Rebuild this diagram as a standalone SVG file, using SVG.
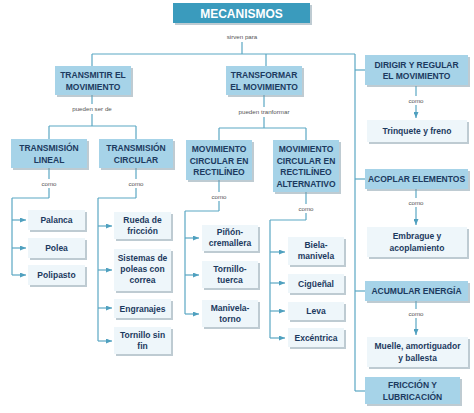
<svg xmlns="http://www.w3.org/2000/svg" width="474" height="413" viewBox="0 0 474 413">
<defs>
<marker id="ah" markerWidth="6" markerHeight="5" refX="6" refY="2.5" orient="auto" markerUnits="userSpaceOnUse">
<path d="M0,0 L6,2.5 L0,5 z" fill="#4fa0bf"/>
</marker>
<style>
.ln{stroke:#5aa7c3;stroke-width:1.2;fill:none}
.ar{stroke:#5aa7c3;stroke-width:1.2;fill:none;marker-end:url(#ah)}
.hd{fill:#a6d3e8}
.lf{fill:#eef6fa}
.sh{fill:#7d98a6;opacity:.5}
.ht{font-family:"Liberation Sans",Arial,sans-serif;font-weight:bold;font-size:8.5px;fill:#1c3a5f;text-anchor:middle}
.lt{font-family:"Liberation Sans",Arial,sans-serif;font-weight:bold;font-size:8.5px;fill:#1c3a5f;text-anchor:middle}
.sm{font-family:"Liberation Sans",Arial,sans-serif;font-size:6.2px;fill:#555;text-anchor:middle}
.tt{font-family:"Liberation Sans",Arial,sans-serif;font-weight:bold;font-size:12px;fill:#fff;text-anchor:middle}
</style>
</defs>
<rect width="474" height="413" fill="#fff"/>

<g id="connectors">
<line class="ln" x1="242" y1="42" x2="242" y2="54"/>
<line class="ln" x1="92" y1="54" x2="355" y2="54"/>
<line class="ln" x1="92" y1="54" x2="92" y2="66"/>
<line class="ln" x1="266" y1="54" x2="266" y2="66"/>
<line class="ln" x1="355" y1="54" x2="355" y2="391"/>
<line class="ln" x1="355" y1="70" x2="365" y2="70"/>
<line class="ln" x1="355" y1="179" x2="365" y2="179"/>
<line class="ln" x1="355" y1="291" x2="365" y2="291"/>
<line class="ln" x1="355" y1="391" x2="365" y2="391"/>
<line class="ln" x1="92" y1="95" x2="92" y2="104"/>
<line class="ln" x1="92" y1="114" x2="92" y2="126"/>
<line class="ln" x1="49" y1="126" x2="136" y2="126"/>
<line class="ln" x1="49" y1="126" x2="49" y2="139"/>
<line class="ln" x1="136" y1="126" x2="136" y2="139"/>
<line class="ln" x1="49" y1="168" x2="49" y2="179"/>
<line class="ln" x1="49" y1="188" x2="49" y2="198"/>
<line class="ln" x1="12" y1="198" x2="49" y2="198"/>
<line class="ln" x1="12" y1="198" x2="12" y2="275"/>
<line class="ar" x1="12" y1="220" x2="26" y2="220"/>
<line class="ar" x1="12" y1="248" x2="26" y2="248"/>
<line class="ar" x1="12" y1="275" x2="26" y2="275"/>
<line class="ln" x1="136" y1="168" x2="136" y2="179"/>
<line class="ln" x1="136" y1="188" x2="136" y2="198"/>
<line class="ln" x1="98" y1="198" x2="136" y2="198"/>
<line class="ln" x1="98" y1="198" x2="98" y2="341"/>
<line class="ar" x1="98" y1="226" x2="112" y2="226"/>
<line class="ar" x1="98" y1="270" x2="112" y2="270"/>
<line class="ar" x1="98" y1="308" x2="112" y2="308"/>
<line class="ar" x1="98" y1="341" x2="112" y2="341"/>
<line class="ln" x1="264" y1="95" x2="264" y2="107"/>
<line class="ln" x1="264" y1="117" x2="264" y2="128"/>
<line class="ln" x1="219" y1="128" x2="306" y2="128"/>
<line class="ln" x1="219" y1="128" x2="219" y2="140"/>
<line class="ln" x1="306" y1="128" x2="306" y2="140"/>
<line class="ln" x1="219" y1="180" x2="219" y2="192"/>
<line class="ln" x1="219" y1="201" x2="219" y2="211"/>
<line class="ln" x1="185" y1="211" x2="219" y2="211"/>
<line class="ln" x1="185" y1="211" x2="185" y2="314"/>
<line class="ar" x1="185" y1="238" x2="199" y2="238"/>
<line class="ar" x1="185" y1="275" x2="199" y2="275"/>
<line class="ar" x1="185" y1="314" x2="199" y2="314"/>
<line class="ln" x1="306" y1="192" x2="306" y2="204"/>
<line class="ln" x1="306" y1="213" x2="306" y2="220"/>
<line class="ln" x1="270" y1="220" x2="306" y2="220"/>
<line class="ln" x1="270" y1="220" x2="270" y2="338"/>
<line class="ar" x1="270" y1="252" x2="285" y2="252"/>
<line class="ar" x1="270" y1="283" x2="285" y2="283"/>
<line class="ar" x1="270" y1="311" x2="285" y2="311"/>
<line class="ar" x1="270" y1="338" x2="285" y2="338"/>
<line class="ln" x1="416" y1="86" x2="416" y2="96"/>
<line class="ar" x1="416" y1="105" x2="416" y2="118"/>
<line class="ln" x1="416" y1="189" x2="416" y2="198"/>
<line class="ar" x1="416" y1="207" x2="416" y2="225"/>
<line class="ln" x1="416" y1="301" x2="416" y2="309"/>
<line class="ar" x1="416" y1="318" x2="416" y2="335"/>
</g>

<g id="labels">
<text class="sm" x="242" y="39">sirven para</text>
<text class="sm" x="92" y="111">pueden ser de</text>
<text class="sm" x="264" y="114">pueden tranformar</text>
<text class="sm" x="49" y="186">como</text>
<text class="sm" x="136" y="186">como</text>
<text class="sm" x="219" y="199">como</text>
<text class="sm" x="306" y="211">como</text>
<text class="sm" x="416" y="103">como</text>
<text class="sm" x="416" y="205">como</text>
<text class="sm" x="416" y="316">como</text>
</g>

<g id="mecanismos">
<rect class="sh" x="175" y="5" width="137" height="20"/>
<rect x="173" y="3" width="137" height="20" fill="#3a9bbd"/>
<text class="tt" x="241.5" y="17.5">MECANISMOS</text>
</g>

<g id="transmitir">
<rect class="sh" x="57" y="68" width="76" height="29"/>
<rect class="hd" x="55" y="66" width="76" height="29"/>
<text class="ht" x="93" y="78">TRANSMITIR EL</text>
<text class="ht" x="93" y="89.5">MOVIMIENTO</text>
</g>
<g id="transformar">
<rect class="sh" x="228" y="68" width="76" height="29"/>
<rect class="hd" x="226" y="66" width="76" height="29"/>
<text class="ht" x="264" y="78">TRANSFORMAR</text>
<text class="ht" x="264" y="89.5">EL MOVIMIENTO</text>
</g>
<g id="dirigir">
<rect class="sh" x="367" y="57" width="103" height="30"/>
<rect class="hd" x="365" y="55" width="103" height="30"/>
<text class="ht" x="416.5" y="67.5">DIRIGIR Y REGULAR</text>
<text class="ht" x="416.5" y="79">EL MOVIMIENTO</text>
</g>

<g id="lineal">
<rect class="sh" x="13" y="141" width="76" height="29"/>
<rect class="hd" x="11" y="139" width="76" height="29"/>
<text class="ht" x="49" y="151">TRANSMISIÓN</text>
<text class="ht" x="49" y="162.5">LINEAL</text>
</g>
<g id="circular">
<rect class="sh" x="101" y="141" width="74" height="29"/>
<rect class="hd" x="99" y="139" width="74" height="29"/>
<text class="ht" x="136" y="151">TRANSMISIÓN</text>
<text class="ht" x="136" y="162.5">CIRCULAR</text>
</g>
<g id="rectilineo">
<rect class="sh" x="188" y="142" width="66" height="40"/>
<rect class="hd" x="186" y="140" width="66" height="40"/>
<text class="ht" x="219" y="152">MOVIMIENTO</text>
<text class="ht" x="219" y="163.5">CIRCULAR EN</text>
<text class="ht" x="219" y="175">RECTILÍNEO</text>
</g>
<g id="alternativo">
<rect class="sh" x="275" y="142" width="66" height="52"/>
<rect class="hd" x="273" y="140" width="66" height="52"/>
<text class="ht" x="306" y="152">MOVIMIENTO</text>
<text class="ht" x="306" y="163.5">CIRCULAR EN</text>
<text class="ht" x="306" y="175">RECTILÍNEO</text>
<text class="ht" x="306" y="186.5">ALTERNATIVO</text>
</g>

<g id="palanca">
<rect class="sh" x="30" y="212" width="57" height="20"/>
<rect class="lf" x="28" y="210" width="57" height="20"/>
<text class="lt" x="56.5" y="223">Palanca</text>
</g>
<g id="polea">
<rect class="sh" x="30" y="240" width="57" height="20"/>
<rect class="lf" x="28" y="238" width="57" height="20"/>
<text class="lt" x="56.5" y="251">Polea</text>
</g>
<g id="polipasto">
<rect class="sh" x="30" y="267" width="57" height="20"/>
<rect class="lf" x="28" y="265" width="57" height="20"/>
<text class="lt" x="56.5" y="278">Polipasto</text>
</g>

<g id="rueda">
<rect class="sh" x="116" y="214" width="57" height="27"/>
<rect class="lf" x="114" y="212" width="57" height="27"/>
<text class="lt" x="142.5" y="223">Rueda de</text>
<text class="lt" x="142.5" y="233.5">fricción</text>
</g>
<g id="sistemas">
<rect class="sh" x="116" y="251" width="57" height="42"/>
<rect class="lf" x="114" y="249" width="57" height="42"/>
<text class="lt" x="142.5" y="261">Sistemas de</text>
<text class="lt" x="142.5" y="272">poleas con</text>
<text class="lt" x="142.5" y="283">correa</text>
</g>
<g id="engranajes">
<rect class="sh" x="116" y="301" width="57" height="19"/>
<rect class="lf" x="114" y="299" width="57" height="19"/>
<text class="lt" x="142.5" y="311.5">Engranajes</text>
</g>
<g id="tornillo-sin-fin">
<rect class="sh" x="116" y="329" width="57" height="27"/>
<rect class="lf" x="114" y="327" width="57" height="27"/>
<text class="lt" x="142.5" y="338">Tornillo sin</text>
<text class="lt" x="142.5" y="348.5">fin</text>
</g>

<g id="pinon">
<rect class="sh" x="204" y="227" width="56" height="26"/>
<rect class="lf" x="202" y="225" width="56" height="26"/>
<text class="lt" x="230" y="235">Piñón-</text>
<text class="lt" x="230" y="245.5">cremallera</text>
</g>
<g id="tornillo-tuerca">
<rect class="sh" x="204" y="263" width="56" height="27"/>
<rect class="lf" x="202" y="261" width="56" height="27"/>
<text class="lt" x="230" y="272">Tornillo-</text>
<text class="lt" x="230" y="282.5">tuerca</text>
</g>
<g id="manivela-torno">
<rect class="sh" x="204" y="302" width="56" height="27"/>
<rect class="lf" x="202" y="300" width="56" height="27"/>
<text class="lt" x="230" y="311">Manivela-</text>
<text class="lt" x="230" y="321.5">torno</text>
</g>

<g id="biela">
<rect class="sh" x="290" y="239" width="56" height="28"/>
<rect class="lf" x="288" y="237" width="56" height="28"/>
<text class="lt" x="316" y="248">Biela-</text>
<text class="lt" x="316" y="258.5">manivela</text>
</g>
<g id="ciguenal">
<rect class="sh" x="290" y="276" width="56" height="19"/>
<rect class="lf" x="288" y="274" width="56" height="19"/>
<text class="lt" x="316" y="286.5">Cigüeñal</text>
</g>
<g id="leva">
<rect class="sh" x="290" y="304" width="56" height="18"/>
<rect class="lf" x="288" y="302" width="56" height="18"/>
<text class="lt" x="316" y="314">Leva</text>
</g>
<g id="excentrica">
<rect class="sh" x="290" y="330" width="56" height="19"/>
<rect class="lf" x="288" y="328" width="56" height="19"/>
<text class="lt" x="316" y="340.5">Excéntrica</text>
</g>

<g id="trinquete">
<rect class="sh" x="369" y="122" width="100" height="22"/>
<rect class="lf" x="367" y="120" width="100" height="22"/>
<text class="lt" x="417" y="134">Trinquete y freno</text>
</g>
<g id="acoplar">
<rect class="sh" x="367" y="171" width="103" height="20"/>
<rect class="hd" x="365" y="169" width="103" height="20"/>
<text class="ht" x="416.5" y="182">ACOPLAR ELEMENTOS</text>
</g>
<g id="embrague">
<rect class="sh" x="369" y="229" width="100" height="30"/>
<rect class="lf" x="367" y="227" width="100" height="30"/>
<text class="lt" x="417" y="239">Embrague y</text>
<text class="lt" x="417" y="250.5">acoplamiento</text>
</g>
<g id="acumular">
<rect class="sh" x="367" y="283" width="103" height="20"/>
<rect class="hd" x="365" y="281" width="103" height="20"/>
<text class="ht" x="416.5" y="294">ACUMULAR ENERGÍA</text>
</g>
<g id="muelle">
<rect class="sh" x="369" y="339" width="101" height="30"/>
<rect class="lf" x="367" y="337" width="101" height="30"/>
<text class="lt" x="417.5" y="349">Muelle, amortiguador</text>
<text class="lt" x="417.5" y="360.5">y ballesta</text>
</g>
<g id="friccion">
<rect class="sh" x="367" y="379" width="95" height="27"/>
<rect class="hd" x="365" y="377" width="95" height="27"/>
<text class="ht" x="412.5" y="388">FRICCIÓN Y</text>
<text class="ht" x="412.5" y="399.5">LUBRICACIÓN</text>
</g>
</svg>
